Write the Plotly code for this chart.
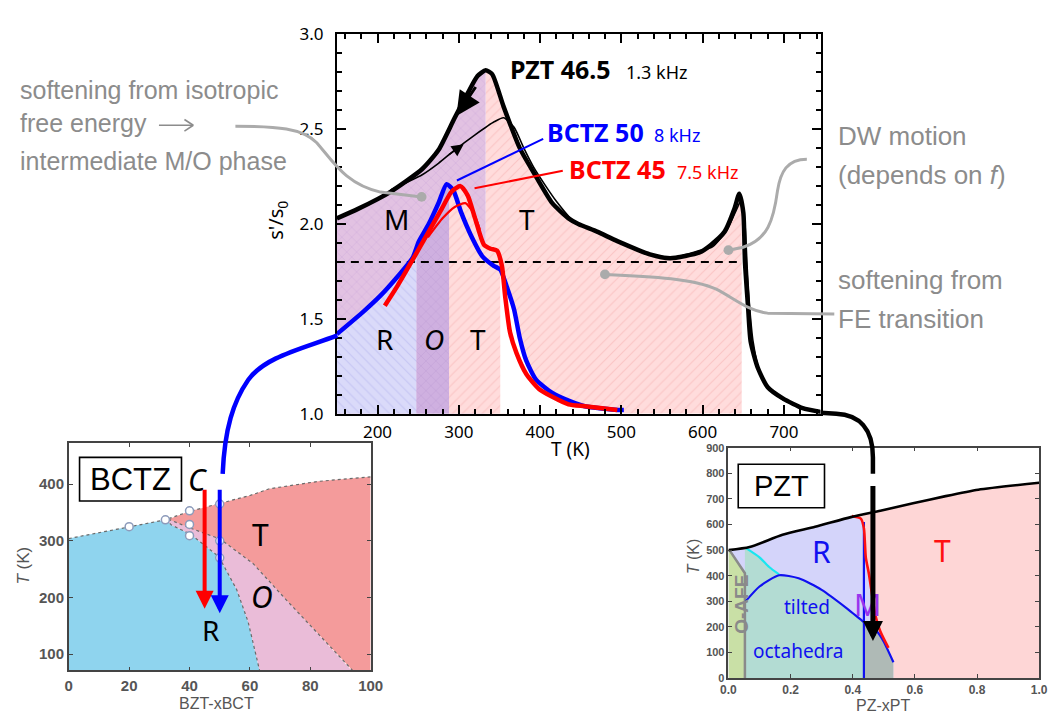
import numpy as np
import plotly.graph_objects as go

W, H = 1060, 725

# ---------------- main panel: s'/s0 versus T (K) ----------------
# PZT 46.5, 1.3 kHz: thick branch
pzt_T = [150, 176, 216, 255, 275, 295, 311, 323, 333, 341, 355, 375, 395, 415,
         435, 447, 470, 495, 535, 560, 596, 610, 627, 639, 645, 650, 652, 656,
         659, 668, 680, 699, 723, 745]
pzt_s = [2.03, 2.08, 2.17, 2.29, 2.39, 2.56, 2.69, 2.78, 2.81, 2.79, 2.62, 2.40,
         2.25, 2.11, 2.03, 2.00, 1.96, 1.91, 1.84, 1.82, 1.85, 1.89, 1.96, 2.08,
         2.16, 2.06, 1.80, 1.55, 1.38, 1.24, 1.14, 1.08, 1.03, 1.01]
# PZT 46.5: thin branch
pzt2_T = [216, 255, 275, 295, 320, 344, 355, 368, 380, 392, 407, 420, 440, 470,
          495, 535, 560, 596, 612, 630, 642, 648, 652, 655, 658, 662, 670, 682, 700]
pzt2_s = [2.18, 2.26, 2.32, 2.39, 2.47, 2.54, 2.56, 2.51, 2.40, 2.30, 2.20, 2.12,
          2.02, 1.96, 1.91, 1.84, 1.82, 1.86, 1.88, 1.97, 2.08, 2.13, 2.00, 1.75,
          1.55, 1.38, 1.22, 1.13, 1.07]
# BCTZ 50, 8 kHz
b50_T = [150, 183, 203, 224, 243, 251, 263, 275, 285, 293, 303, 315, 329, 343,
         351, 359, 368, 375, 383, 395, 415, 435, 455, 495, 503]
b50_s = [1.42, 1.54, 1.62, 1.72, 1.82, 1.91, 2.00, 2.11, 2.21, 2.18, 2.06, 1.94,
         1.83, 1.78, 1.76, 1.67, 1.55, 1.40, 1.28, 1.18, 1.11, 1.07, 1.04, 1.02, 1.02]
# BCTZ 45, 7.5 kHz
b45_T = [209, 224, 243, 263, 279, 291, 302, 311, 320, 331, 339, 347, 353, 357,
         363, 371, 383, 399, 415, 435, 455, 495]
b45_s = [1.57, 1.67, 1.81, 1.96, 2.08, 2.17, 2.20, 2.15, 2.03, 1.89, 1.87, 1.86,
         1.78, 1.62, 1.43, 1.32, 1.21, 1.13, 1.09, 1.05, 1.04, 1.02]
b45b_T = [262, 280, 295, 308, 318, 326]
b45b_s = [1.93, 2.03, 2.09, 2.11, 2.06, 1.97]

# phase limits along T (K)
pzt_m_end = 333
pzt_t_end = 648
bctz_r_end = 248
bctz_o_end = 288
bctz_t_end = 351
s_level = 1.8

# ---------------- BCTZ phase diagram (BZT-xBCT) ----------------
bctz_curie_x = [0, 20, 32, 40, 50, 60, 66.5, 82.7, 100]
bctz_curie_T = [304, 325, 337, 352, 366, 380, 392, 405, 413]
bctz_ro_x = [32, 34, 40.5, 49.7, 55.6, 59.4, 63.2]
bctz_ro_T = [338, 328, 311, 272, 214, 157, 71]
bctz_ot_x = [33, 40, 50.2, 61, 71.8, 82.7, 93, 94]
bctz_ot_T = [338, 323, 303, 260, 197, 135, 75, 71]
bctz_pts_x = [20, 32, 40, 40, 40, 50, 50, 50]
bctz_pts_T = [325, 337, 353, 329, 309, 365, 300, 270]
bctz_x45, bctz_x50 = 45, 50

# ---------------- PZT phase diagram (PZ-xPT) ----------------
pzt_curie_x = [0, 0.068, 0.174, 0.279, 0.394, 0.489, 0.594, 0.699, 0.804, 1.0]
pzt_curie_T = [500, 512, 560, 591, 629, 654, 683, 711, 736, 763]
pzt_tilt_x = [0.055, 0.1, 0.163, 0.226, 0.30, 0.384, 0.436, 0.478, 0.499, 0.531]
pzt_tilt_T = [300, 358, 402, 390, 345, 270, 219, 182, 144, 62]
pzt_cyan_x = [0.058, 0.1, 0.131, 0.163]
pzt_cyan_T = [507, 472, 434, 405]
pzt_mpb_x = [0.397, 0.426, 0.436, 0.442, 0.452, 0.463, 0.473, 0.489, 0.515]
pzt_mpb_T = [633, 623, 585, 472, 408, 320, 245, 182, 118]
pzt_afe_x = [0.0, 0.005, 0.053, 0.053]
pzt_afe_T = [500, 497, 410, 0]
pzt_mono_x = 0.436
pzt_mono_top = 610
pzt_x465 = 0.465

FONT = "Noto Sans"
GRAY_TXT = "#8c8c8c"
GRAY_LN = "#ababab"
PINK_BG, PINK_FG = "#ffdcdc", "#f6adad"
MAUVE_BG, MAUVE_FG = "#e2c2e2", "#c29ad6"
LAV_BG, LAV_FG = "#dadaf9", "#b0b0ee"
PURP_BG, PURP_FG = "#cfb0e0", "#b393cd"

fig = go.Figure()


def hatch(shape, bg, fg, size=7, sol=0.16):
    return dict(shape=shape, bgcolor=bg, fgcolor=fg, size=size, solidity=sol)


def under(T_arr, s_arr, t0, t1, n=80):
    t = np.linspace(t0, t1, n)
    s = np.interp(t, T_arr, s_arr)
    return np.r_[t0, t, t1], np.r_[1.0, s, 1.0]


def bctz_env(t):
    b = np.interp(t, b50_T, b50_s)
    r = np.interp(t, b45_T, b45_s, left=0, right=0)
    return np.maximum(b, r)


def under_env(t0, t1, n=80):
    t = np.linspace(t0, t1, n)
    return np.r_[t0, t, t1], np.r_[1.0, bctz_env(t), 1.0]


def poly(x, y, bg, pattern=None, xa="x", ya="y"):
    kw = dict(x=x, y=y, fill="toself", mode="lines", line=dict(width=0),
              fillcolor=bg, hoverinfo="skip", showlegend=False, xaxis=xa, yaxis=ya)
    if pattern is not None:
        kw["fillpattern"] = pattern
    fig.add_trace(go.Scatter(**kw))


def curve(x, y, color, width, xa="x", ya="y", dash=None, shape="spline"):
    fig.add_trace(go.Scatter(x=x, y=y, mode="lines",
                             line=dict(color=color, width=width, dash=dash,
                                       shape=shape, smoothing=0.6),
                             hoverinfo="skip", showlegend=False, xaxis=xa, yaxis=ya))


# ---- main panel regions ----
tx, sy = under(pzt_T, pzt_s, pzt_m_end, pzt_t_end)
poly(tx, sy, PINK_BG, hatch("/", PINK_BG, PINK_FG))
tx, sy = under(pzt_T, pzt_s, 150, pzt_m_end)
poly(tx, sy, MAUVE_BG, hatch("x", MAUVE_BG, MAUVE_FG))
tx, sy = under_env(150, bctz_r_end)
poly(tx, sy, LAV_BG, hatch("\\", LAV_BG, LAV_FG))
tx, sy = under_env(bctz_r_end, bctz_o_end)
poly(tx, sy, PURP_BG, hatch("x", PURP_BG, PURP_FG))
tx, sy = under_env(bctz_o_end, bctz_t_end)
poly(tx, sy, PINK_BG, hatch("/", PINK_BG, PINK_FG))
tx, sy = under_env(bctz_t_end, max(b50_T))
poly(tx, sy, "white")

# dashed reference level
curve([150, pzt_t_end], [s_level, s_level], "black", 2, dash="8px,6px", shape="linear")

# measured curves
curve(pzt2_T, pzt2_s, "black", 1.6)
curve(pzt_T, pzt_s, "black", 4.5)
curve(b50_T, b50_s, "#0000ff", 4.5)
curve(b45b_T, b45b_s, "#ff0000", 2.2)
curve(b45_T, b45_s, "#ff0000", 4.5)

# ---- BCTZ phase diagram ----
cx, cT = np.array(bctz_curie_x), np.array(bctz_curie_T)
r_x = [0] + list(cx[cx <= 32]) + bctz_ro_x[1:] + [bctz_ro_x[-1], 0]
r_y = [0] + list(cT[cx <= 32]) + bctz_ro_T[1:] + [0, 0]
poly(r_x, r_y, "#8fd4ee", xa="x2", ya="y2")
o_x = bctz_ro_x + [bctz_ro_x[-1], bctz_ot_x[-1]] + bctz_ot_x[::-1]
o_y = bctz_ro_T + [0, 0] + bctz_ot_T[::-1]
poly(o_x, o_y, "#eabcd8", xa="x2", ya="y2")
t_x = bctz_ot_x + [bctz_ot_x[-1], 100] + list(cx[cx > 33][::-1])
t_y = bctz_ot_T + [0, 0] + list(cT[cx > 33][::-1])
poly(t_x, t_y, "#f49b9b", xa="x2", ya="y2")
for bx, bT in [(bctz_curie_x, bctz_curie_T), (bctz_ro_x, bctz_ro_T), (bctz_ot_x, bctz_ot_T)]:
    curve(bx, bT, "#6a6a6a", 1.2, xa="x2", ya="y2", dash="dot", shape="linear")
fig.add_trace(go.Scatter(x=bctz_pts_x, y=bctz_pts_T, mode="markers",
                         marker=dict(symbol="circle", size=8, color="white",
                                     line=dict(color="#8d9bbb", width=1.5)),
                         hoverinfo="skip", showlegend=False, xaxis="x2", yaxis="y2"))

# ---- PZT phase diagram ----
px_, pT_ = np.array(pzt_curie_x), np.array(pzt_curie_T)
mx = pzt_mpb_x[0]
lav_x = [0] + list(px_[px_ < mx]) + pzt_mpb_x + [pzt_tilt_x[-1], pzt_tilt_x[-1]]
lav_y = [0] + list(pT_[px_ < mx]) + pzt_mpb_T + [pzt_tilt_T[-1], 0]
poly(lav_x, lav_y, "#d4d4fa", xa="x3", ya="y3")
pk_x = pzt_mpb_x + [pzt_tilt_x[-1], pzt_tilt_x[-1], 1.0] + list(px_[px_ > mx][::-1])
pk_y = pzt_mpb_T + [pzt_tilt_T[-1], 0, 0] + list(pT_[px_ > mx][::-1])
poly(pk_x, pk_y, "#fed6d6", xa="x3", ya="y3")
tilt_x, tilt_T = np.array(pzt_tilt_x), np.array(pzt_tilt_T)
sel = (tilt_x >= pzt_cyan_x[-1]) & (tilt_x <= pzt_mono_x)
afe_edge = pzt_afe_x[-1]
tl_x = [afe_edge, afe_edge] + pzt_cyan_x + list(tilt_x[sel]) + [pzt_mono_x]
tl_y = [0, float(np.interp(afe_edge, px_, pT_))] + pzt_cyan_T + list(tilt_T[sel]) + [0]
poly(tl_x, tl_y, "#b3dcd3", xa="x3", ya="y3")
sel2 = tilt_x >= pzt_mono_x
gr_x = [pzt_mono_x] + list(tilt_x[sel2]) + [pzt_tilt_x[-1]]
gr_y = [0] + list(tilt_T[sel2]) + [0]
poly(gr_x, gr_y, "#afbab6", xa="x3", ya="y3")
poly([0] + pzt_afe_x, [0] + pzt_afe_T, "#c9e0a6", xa="x3", ya="y3")
curve(pzt_afe_x, pzt_afe_T, "#8a8a8a", 2.5, xa="x3", ya="y3", shape="linear")
curve(pzt_cyan_x, pzt_cyan_T, "#19e6f0", 2.2, xa="x3", ya="y3")
curve(pzt_tilt_x, pzt_tilt_T, "#1010f0", 2.2, xa="x3", ya="y3")
curve([pzt_mono_x, pzt_mono_x], [0, pzt_mono_top], "#1010f0", 2.2, xa="x3", ya="y3", shape="linear")
curve(pzt_mpb_x, pzt_mpb_T, "#ff1010", 2.6, xa="x3", ya="y3")
curve(pzt_curie_x, pzt_curie_T, "black", 2.6, xa="x3", ya="y3")

# overlay frame in pixel units for labels and connectors
fig.add_trace(go.Scatter(x=[None], y=[None], xaxis="x4", yaxis="y4",
                         showlegend=False, hoverinfo="skip"))


def dom_x(a, b):
    return [a / W, b / W]


def dom_y(top, bottom):
    return [1 - bottom / H, 1 - top / H]


main_ax = dict(showline=True, linecolor="black", linewidth=2, mirror="ticks",
               ticks="inside", ticklen=9, tickwidth=1.6, tickcolor="black",
               showgrid=False, zeroline=False,
               tickfont=dict(family=FONT, size=17, color="black"))
ins_font = dict(family="Liberation Sans", size=15, color="#555555", weight="bold")
ins_ax = dict(showline=True, linecolor="#444444", linewidth=1.5, mirror="ticks",
              ticks="inside", ticklen=4, tickwidth=1.2, tickcolor="#444444",
              showgrid=False, zeroline=False, tickfont=ins_font)

fig.update_layout(
    width=W, height=H, margin=dict(l=0, r=0, t=0, b=0),
    paper_bgcolor="white", plot_bgcolor="rgba(0,0,0,0)", showlegend=False,
    xaxis=dict(main_ax, domain=dom_x(335.5, 829), range=[150, 745], anchor="y",
               tickvals=[200, 300, 400, 500, 600, 700], ticklabelstandoff=2,
               minor=dict(dtick=20, ticklen=5, ticks="inside", tickwidth=1.6, tickcolor="black")),
    yaxis=dict(main_ax, domain=dom_y(23, 415), range=[1, 3], anchor="x",
               dtick=0.5, tickformat=".1f", ticklabelstandoff=8,
               minor=dict(dtick=0.1, ticklen=5, ticks="inside", tickwidth=1.6, tickcolor="black")),
    xaxis2=dict(ins_ax, domain=dom_x(62, 370), range=[0, 100], anchor="y2", dtick=20,
                ticklabelstandoff=1),
    yaxis2=dict(ins_ax, domain=dom_y(445, 680), range=[71, 473], anchor="x2",
                tickvals=[100, 200, 300, 400]),
    xaxis3=dict(ins_ax, domain=dom_x(735, 1052), range=[0, 1], anchor="y3",
                dtick=0.2, tickformat=".1f", ticklabelstandoff=0,
                tickfont=dict(ins_font, size=12)),
    yaxis3=dict(ins_ax, domain=dom_y(450, 688), range=[0, 900], anchor="x3",
                dtick=100, tickfont=dict(ins_font, size=11)),
    xaxis4=dict(domain=[0, 1], range=[0, W], visible=False, anchor="y4", fixedrange=True),
    yaxis4=dict(domain=[0, 1], range=[H, 0], visible=False, anchor="x4", fixedrange=True),
)

shapes = []


def pshape(path, color, width):
    shapes.append(dict(type="path", xref="x4", yref="y4", path=path, layer="above",
                       line=dict(color=color, width=width)))


def pline(x0, y0, x1, y1, color, width):
    shapes.append(dict(type="line", xref="x4", yref="y4", x0=x0, y0=y0, x1=x1, y1=y1,
                       layer="above", line=dict(color=color, width=width)))


def dot(x, y, r, color):
    shapes.append(dict(type="circle", xref="x4", yref="y4", x0=x - r, x1=x + r,
                       y0=y - r, y1=y + r, layer="above",
                       fillcolor=color, line=dict(width=0)))


def box(x0, y0, x1, y1):
    shapes.append(dict(type="rect", xref="x4", yref="y4", x0=x0, x1=x1, y0=y0, y1=y1,
                       layer="above", fillcolor="white", line=dict(color="black", width=1.6)))


# gray callouts
pshape("M 232,118 C 275,118 300,120 315,135 C 332,155 345,178 380,186 L 422,191", GRAY_LN, 3)
pshape("M 815,152 C 795,152 788,165 785,185 C 781,215 775,235 750,243 L 735,246", GRAY_LN, 3)
pshape("M 843,312 L 775,311 C 755,309 740,295 722,286 C 700,276 660,273 609,271", GRAY_LN, 3)
for cxp, cyp in [(422, 191), (735, 246), (609, 271)]:
    dot(cxp, cyp, 5, GRAY_LN)
pline(154, 117, 189, 117, GRAY_TXT, 1.6)
pline(180, 111, 189, 117, GRAY_TXT, 1.6)
pline(180, 123, 189, 117, GRAY_TXT, 1.6)

# leaders for the curve labels
pline(546, 131, 458, 174, "#0000ff", 2)
pline(566, 164, 476, 182, "#ff0000", 2)

# connectors from the main curves to the phase diagrams
pshape("M 336,334 C 300,348 262,356 245,380 C 230,402 221,430 219,477", "#0000ff", 4.5)
x_pzt_px = 735 + pzt_x465 * 317
pshape(f"M 829,414 L 845,415 C 868,416 {x_pzt_px:.1f},430 {x_pzt_px:.1f},460 "
       f"L {x_pzt_px:.1f},477", "black", 4.5)

box(73, 460, 177, 505)
box(745, 467, 833, 512)

ann = []


def txt(x, y, text, size, color="black", family=FONT, xanchor="center", angle=0, weight="normal"):
    ann.append(dict(xref="x4", yref="y4", x=x, y=y, text=text, showarrow=False,
                    xanchor=xanchor, yanchor="middle", textangle=angle,
                    font=dict(family=family, size=size, color=color, weight=weight)))


def arrow(xref, yref, x, y, ax, ay, color, width, size, head=2):
    ann.append(dict(xref=xref, yref=yref, axref=xref, ayref=yref, x=x, y=y, ax=ax, ay=ay,
                    text="", showarrow=True, arrowhead=head, arrowsize=size,
                    arrowwidth=width, arrowcolor=color, standoff=0))


# main panel text
txt(510, 59, "PZT 46.5", 25, weight="bold", xanchor="left")
txt(628, 62, "1.3 kHz", 18, xanchor="left")
txt(548, 124, "BCTZ 50", 25, color="#0000ff", weight="bold", xanchor="left")
txt(657, 127, "8 kHz", 18, color="#0000ff", xanchor="left")
txt(570, 162, "BCTZ 45", 25, color="#ff0000", weight="bold", xanchor="left")
txt(680, 165, "7.5 kHz", 18, color="#ff0000", xanchor="left")
txt(396, 214, "M", 28)
txt(529, 214, "T", 28)
txt(384, 338, "R", 28)
txt(435, 338, "<i>O</i>", 28)
txt(480, 338, "T", 28)
txt(574, 451, "T (K)", 19)
txt(274, 215, "s'/s<sub>0</sub>", 20, angle=-90)

# callout text
LS = "Liberation Sans"
txt(10, 81, "softening from isotropic", 25, GRAY_TXT, LS, "left")
txt(10, 115, "free energy", 25, GRAY_TXT, LS, "left")
txt(10, 154, "intermediate M/O phase", 25, GRAY_TXT, LS, "left")
txt(845, 128, "DW motion", 26, GRAY_TXT, LS, "left")
txt(845, 168, "(depends on <i>f</i>)", 26, GRAY_TXT, LS, "left")
txt(845, 277, "softening from", 26, GRAY_TXT, LS, "left")
txt(845, 317, "FE transition", 26, GRAY_TXT, LS, "left")

# BCTZ diagram text
txt(125, 483, "BCTZ", 31, family=LS)
txt(193, 483, "<i>C</i>", 30)
txt(258, 540, "T", 30)
txt(259, 604, "<i>O</i>", 30)
txt(207, 638, "R", 28)
txt(213, 714, "BZT-xBCT", 16, "#555555", LS)
txt(16, 572, "<i>T</i> (K)", 17, "#555555", LS, angle=-90)

# PZT diagram text
txt(789, 490, "PZT", 29, family=LS)
txt(830, 557, "R", 30, "#1010f0")
txt(953, 556, "T", 30, "#ff1010")
txt(877, 612, "M", 30, "#9933ee")
txt(815, 614, "tilted", 19, "#1010f0")
txt(806, 660, "octahedra", 19, "#1010f0")
txt(748, 612, "O-AFE", 19, "#8a8a8a", LS, angle=-90, weight="bold")
txt(893, 716, "PZ-xPT", 16, "#555555", LS)
txt(699, 562, "<i>T</i> (K)", 16, "#555555", LS, angle=-90)

# arrows: cooling / heating direction on PZT curve, compositions on the diagrams
arrow("x", "y", 297, 2.57, 322, 2.73, "black", 3, 1.6)
arrow("x", "y", 306, 2.42, 286, 2.36, "black", 1.5, 1.6)
arrow("x2", "y2", bctz_x45, 180, bctz_x45, 393, "#ff0000", 4, 0.9)
arrow("x2", "y2", bctz_x50, 172, bctz_x50, 393, "#0000ff", 4, 0.9)
arrow("x3", "y3", pzt_x465, 145, pzt_x465, 756, "black", 5, 0.8)

fig.update_layout(shapes=shapes, annotations=ann)
fig.write_html("out.html")
